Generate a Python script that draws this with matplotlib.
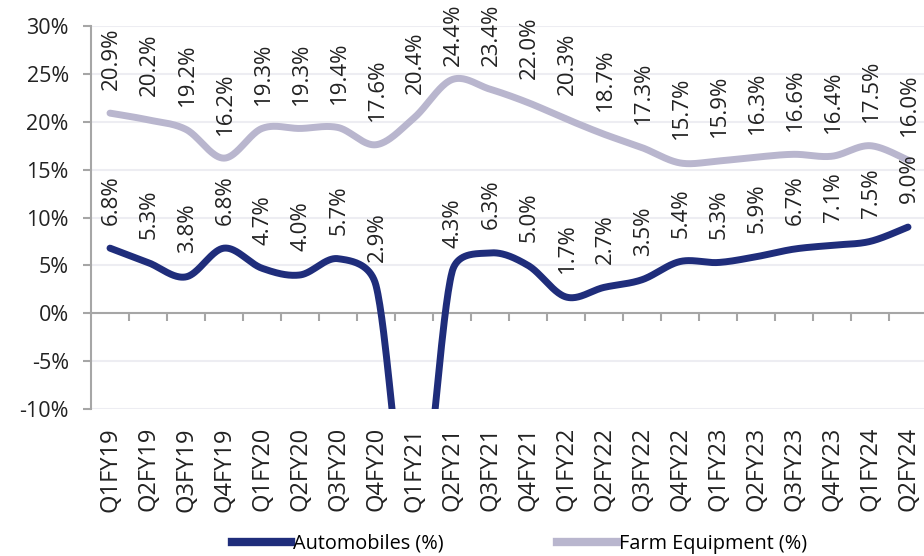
import numpy as np
import matplotlib
matplotlib.use("Agg")
import matplotlib.pyplot as plt

plt.rcParams['font.family'] = ['Open Sans', 'DejaVu Sans']

categories = ["Q1FY19", "Q2FY19", "Q3FY19", "Q4FY19", "Q1FY20", "Q2FY20", "Q3FY20",
              "Q4FY20", "Q1FY21", "Q2FY21", "Q3FY21", "Q4FY21", "Q1FY22", "Q2FY22",
              "Q3FY22", "Q4FY22", "Q1FY23", "Q2FY23", "Q3FY23", "Q4FY23", "Q1FY24",
              "Q2FY24"]
automobiles = [6.8, 5.3, 3.8, 6.8, 4.7, 4.0, 5.7, 2.9, -25.0, 4.3, 6.3, 5.0, 1.7, 2.7,
               3.5, 5.4, 5.3, 5.9, 6.7, 7.1, 7.5, 9.0]
farm_equipment = [20.9, 20.2, 19.2, 16.2, 19.3, 19.3, 19.4, 17.6, 20.4, 24.4, 23.4, 22.0,
                  20.3, 18.7, 17.3, 15.7, 15.9, 16.3, 16.6, 16.4, 17.5, 16.0]
y_ticks = [-10, -5, 0, 5, 10, 15, 20, 25, 30]

AUTO_C = "#1F2D7B"
FARM_C = "#B9B6CE"

XPX = 38.0    # pixels per category
YPX = 9.575   # pixels per percentage point


def smooth(y, n=40):
    """Spreadsheet-style smoothed line: cubic Bezier segments whose control
    points follow neighbour directions, capped at half the segment length."""
    P = np.column_stack([np.arange(len(y)) * XPX, np.asarray(y, float) * YPX])
    N = len(P)
    out = []
    for i in range(N - 1):
        p0 = P[i - 1] if i > 0 else P[i]
        p1, p2 = P[i], P[i + 1]
        p3 = P[i + 2] if i + 2 < N else P[i + 1]
        d12 = np.hypot(*(p2 - p1))
        d02 = np.hypot(*(p2 - p0))
        d13 = np.hypot(*(p3 - p1))
        f1 = 1 / 6 if d02 / 6 <= d12 / 2 else d12 / (2 * d02)
        f2 = 1 / 6 if d13 / 6 <= d12 / 2 else d12 / (2 * d13)
        c1 = p1 + (p2 - p0) * f1
        c2 = p2 - (p3 - p1) * f2
        t = np.linspace(0, 1, n, endpoint=(i == N - 2))[:, None]
        seg = ((1 - t) ** 3) * p1 + 3 * ((1 - t) ** 2) * t * c1 + 3 * (1 - t) * t ** 2 * c2 + t ** 3 * p2
        out.append(seg)
    out = np.vstack(out)
    return out[:, 0] / XPX, out[:, 1] / YPX


fig = plt.figure(figsize=(9.24, 5.56), dpi=100)
ax = fig.add_axes([91 / 924, (556 - 409) / 556, 836 / 924, 383 / 556])

for vals, col in [(farm_equipment, FARM_C), (automobiles, AUTO_C)]:
    sx, sy = smooth(vals)
    ax.plot(sx, sy, color=col, lw=5, solid_capstyle='round', zorder=3)

ax.set_xlim(-0.5, len(categories) - 0.5)
ax.set_ylim(-10, 30)
ax.set_yticks(y_ticks)
ax.set_yticklabels([f"{v}%" for v in y_ticks], fontsize=15.5, color="#222222")
ax.yaxis.grid(True, color="#EDEDF2", lw=1.5, zorder=0)
ax.set_axisbelow(True)

for s in ["top", "right"]:
    ax.spines[s].set_visible(False)
ax.spines["left"].set_color("#A6A6A6")
ax.spines["left"].set_linewidth(1.5)
ax.spines["bottom"].set_position(("data", 0))
ax.spines["bottom"].set_color("#A6A6A6")
ax.spines["bottom"].set_linewidth(1.5)
ax.tick_params(axis="y", length=6, width=1.5, color="#A6A6A6", pad=10)
ax.set_xticks(np.arange(len(categories) - 1) + 0.5)
ax.set_xticklabels([])
ax.tick_params(axis="x", length=6, width=1.5, color="#A6A6A6", direction="out")

# category labels below the plot
for i, c in enumerate(categories):
    ax.annotate(c, xy=(i, 0), xycoords=("data", "axes fraction"), xytext=(0, -13),
                textcoords="offset points", rotation=90, ha="center", va="top",
                fontsize=17, color="#222222")

# data labels
labels = []
for vals in (farm_equipment, automobiles):
    for i, v in enumerate(vals):
        if v < -10:
            continue
        t = ax.annotate(f"{v:.1f}%", xy=(i, v), xytext=(1, 17), textcoords="offset points",
                        rotation=90, ha="center", va="bottom", fontsize=16,
                        color="#222222", zorder=5)
        labels.append(t)

handles = [plt.Line2D([], [], color=AUTO_C, lw=6),
           plt.Line2D([], [], color=FARM_C, lw=6)]
fig.legend(handles, ["Automobiles (%)", "Farm Equipment (%)"], loc="center",
           bbox_to_anchor=(0.562, 0.022), ncol=2, frameon=False, fontsize=14.3,
           handlelength=3.0, handletextpad=0.1, columnspacing=5.7)

# keep data labels inside the figure (push down if they would be clipped)
fig.canvas.draw()
r = fig.canvas.get_renderer()
H = fig.bbox.height
for t in labels:
    bb = t.get_window_extent(r)
    if bb.y1 > H - 3:
        dx, dy = t.xyann
        t.xyann = (dx, dy - (bb.y1 - (H - 3)) * 72 / fig.dpi)

fig.savefig("out.png", dpi=100)
